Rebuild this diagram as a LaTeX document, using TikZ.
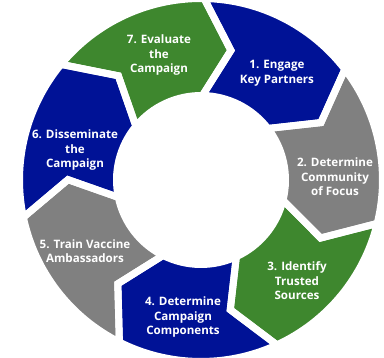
\documentclass[tikz,border=0pt]{standalone}
\usepackage{fontspec}
\setmainfont{Open Sans}

\definecolor{ringblue}{RGB}{0,18,150}
\definecolor{ringgrey}{RGB}{128,128,128}
\definecolor{ringgreen}{RGB}{62,135,46}

\begin{document}
\begin{tikzpicture}[x=1pt,y=1pt]
  \tikzset{
    ringpart/.style={insert path={
      ({#1}:181.5) arc[start angle={#1}, end angle={#1-51.43}, radius=181.5]
      -- ({#1-63.43}:133) -- ({#1-51.43}:84.5)
      arc[start angle={#1-51.43}, end angle={#1}, radius=84.5]
      -- ({#1-12}:133) -- cycle}},
    label/.style={text=white, font=\bfseries\fontsize{11.6}{14.6}\selectfont, align=center}
  }
  \useasboundingbox (-201,-178) rectangle (183,180);

  % Segments
  \foreach \c [count=\k, evaluate=\k as \s using 89-51.43*(\k-1)] in
      {ringblue,ringgrey,ringgreen,ringblue,ringgrey,ringblue,ringgreen}
    \fill[\c, ringpart=\s];
  \foreach \k [evaluate=\k as \s using 89-51.43*(\k-1)] in {1,...,7}
    \draw[white, line width=7pt, ringpart=\s];

  % Labels
  \node[label] (engage)   at (76,107)   {1. Engage\\Key Partners};
  \node[label] (community) at (134,3)   {2. Determine\\Community\\of Focus};
  \node[label] (trusted)  at (96,-101)  {3. Identify\\Trusted\\Sources};
  \node[label] (components) at (-18,-137) {4. Determine\\Campaign\\Components};
  \node[label] (train)    at (-116,-71) {5. Train Vaccine\\Ambassadors};
  \node[label] (dissem)   at (-126,30)  {6. Disseminate\\the\\Campaign};
  \node[label] (evaluate) at (-42,125)  {7. Evaluate\\the\\Campaign};
\end{tikzpicture}
\end{document}
